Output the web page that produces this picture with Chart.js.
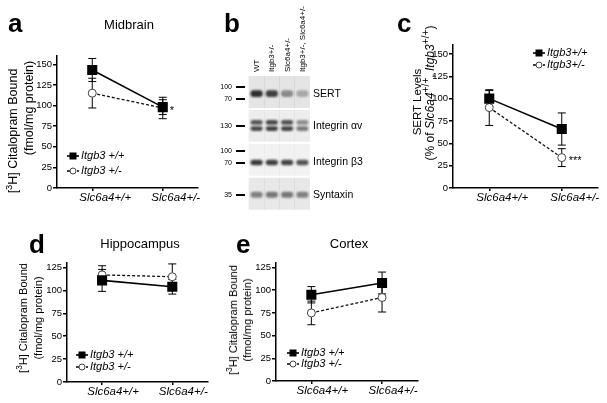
<!DOCTYPE html>
<html>
<head>
<meta charset="utf-8">
<script src="https://cdn.jsdelivr.net/npm/chart.js@4.4.1/dist/chart.umd.min.js"></script>
<style>
  body { margin: 0; background: #fff; }
  #fig { position: relative; width: 607px; height: 403px; overflow: hidden; font-family: "Liberation Sans", Arial, sans-serif; color: #000; }
  #fig canvas { position: absolute; }
  .letter { position: absolute; font-weight: bold; font-size: 26px; line-height: 26px; }
  .title { position: absolute; font-size: 13px; transform: translate(-50%, -50%); white-space: nowrap; }
  .ytitle { position: absolute; transform: translate(-50%, -50%) rotate(-90deg); text-align: center; white-space: nowrap; }
  .ytitle sup { font-size: 0.75em; line-height: 0; }
</style>
</head>
<body>
<div id="fig">
  <canvas id="chartA" width="210" height="210" style="left:0;top:0"></canvas>
  <canvas id="chartB" width="175" height="220" style="left:200px;top:0"></canvas>
  <canvas id="chartC" width="207" height="210" style="left:400px;top:0"></canvas>
  <canvas id="chartD" width="175" height="147" style="left:40px;top:255px"></canvas>
  <canvas id="chartE" width="175" height="146" style="left:250px;top:255px"></canvas>

  <div class="letter" style="left:8px;top:10px">a</div>
  <div class="letter" style="left:224px;top:10px">b</div>
  <div class="letter" style="left:397px;top:10px">c</div>
  <div class="letter" style="left:29px;top:231px">d</div>
  <div class="letter" style="left:236px;top:231px">e</div>

  <div class="title" style="left:129px;top:24px">Midbrain</div>
  <div class="title" style="left:140px;top:243px">Hippocampus</div>
  <div class="title" style="left:349px;top:243px">Cortex</div>

  <div class="ytitle" style="left:13px;top:131px;font-size:12.5px">[<sup>3</sup>H] Citalopram Bound</div>
  <div class="ytitle" style="left:29px;top:108px;font-size:12.5px">(fmol/mg protein)</div>
  <div class="ytitle" style="left:417px;top:102px;font-size:11.5px">SERT Levels</div>
  <div class="ytitle" style="left:430px;top:93px;font-size:12px">(% of <i>Slc6a4</i><sup style="font-size:0.85em">+/+</sup>, <i>Itgb3</i><sup style="font-size:0.85em">+/+</sup>)</div>
  <div class="ytitle" style="left:31px;top:318px;font-size:11px;line-height:15px">[<sup>3</sup>H] Citalopram Bound<br>(fmol/mg protein)</div>
  <div class="ytitle" style="left:240px;top:320px;font-size:11px;line-height:14px">[<sup>3</sup>H] Citalopram Bound<br>(fmol/mg protein)</div>
</div>
<script>
Chart.defaults.font.family = '"Liberation Sans", Arial, sans-serif';
Chart.defaults.color = "#000";

const genotypes = ["Slc6a4+/+", "Slc6a4+/-"];
const seriesNames = ["Itgb3 +/+", "Itgb3 +/-"];
const seriesNamesC = ["Itgb3+/+", "Itgb3+/-"];

// a - midbrain binding
const midbrainWt = [143, 98];
const midbrainWtErr = [14, 9];
const midbrainHet = [115, 97];
const midbrainHetErr = [18, 13];
const midbrainStars = [null, "*"];

// c - SERT protein levels
const sertWt = [100, 66];
const sertWtErr = [9, 18];
const sertHet = [90, 34];
const sertHetErr = [20, 10];
const sertStars = [null, "***"];

// d - hippocampus binding
const hippoWt = [111, 104];
const hippoWtErr = [12, 8];
const hippoHet = [117, 115];
const hippoHetErr = [10, 14];

// e - cortex binding
const cortexWt = [95, 108];
const cortexWtErr = [9, 12];
const cortexHet = [75, 92];
const cortexHetErr = [13, 16];

// b - western blot
const lanes = ["WT", "Itgb3+/-", "Slc6a4+/-", "Itgb3+/-, Slc6a4+/-"];
const proteins = ["SERT", "Integrin \u03b1v", "Integrin \u03b23", "Syntaxin"];
const proteinRows = [0.05, 1.0, 2.08, 3.03];
const markerLabels = ["100", "70", "130", "100", "70", "35"];
const markerRows = [-0.15, 0.2, 1.0, 1.75, 2.1, 3.05];
const sertBand = [0.9, 0.82, 0.45, 0.3];
const avUpperBand = [0.72, 0.78, 0.74, 0.45];
const avLowerBand = [0.78, 0.82, 0.8, 0.55];
const b3Band = [0.85, 0.82, 0.8, 0.72];
const syntaxinBand = [0.5, 0.55, 0.55, 0.5];
const bandRows = [0.05, 0.9, 1.08, 2.08, 3.03];
const bandLevels = [sertBand, avUpperBand, avLowerBand, b3Band, syntaxinBand];
const stripShade = [0.1, 0.07, 0.05, 0.09];

const errorBars = {
  id: "errorBars",
  beforeDatasetsDraw(chart) {
    const { ctx } = chart;
    ctx.save();
    ctx.strokeStyle = "#000";
    ctx.lineWidth = 1;
    chart.data.datasets.forEach((ds, di) => {
      if (!ds.errors) return;
      const meta = chart.getDatasetMeta(di);
      const yScale = chart.scales[meta.yAxisID];
      meta.data.forEach((pt, i) => {
        const top = yScale.getPixelForValue(ds.data[i] + ds.errors[i]);
        const bottom = yScale.getPixelForValue(ds.data[i] - ds.errors[i]);
        ctx.beginPath();
        ctx.moveTo(pt.x, top);
        ctx.lineTo(pt.x, bottom);
        ctx.moveTo(pt.x - 4, top);
        ctx.lineTo(pt.x + 4, top);
        ctx.moveTo(pt.x - 4, bottom);
        ctx.lineTo(pt.x + 4, bottom);
        ctx.stroke();
      });
    });
    ctx.restore();
  },
};

const starMarks = {
  id: "starMarks",
  afterDatasetsDraw(chart) {
    const { ctx } = chart;
    ctx.save();
    ctx.fillStyle = "#000";
    ctx.font = '11px "Liberation Sans", Arial, sans-serif';
    ctx.textAlign = "left";
    ctx.textBaseline = "middle";
    chart.data.datasets.forEach((ds, di) => {
      (ds.stars || []).forEach((s, i) => {
        if (!s) return;
        const pt = chart.getDatasetMeta(di).data[i];
        ctx.fillText(s, pt.x + 7, pt.y + 3);
      });
    });
    ctx.restore();
  },
};

const inlineLegend = {
  id: "inlineLegend",
  afterDatasetsDraw(chart, args, opts) {
    const { ctx, chartArea } = chart;
    const x0 = chartArea.left + opts.dx;
    const yBase = opts.fromTop ? chartArea.top : chartArea.bottom;
    ctx.save();
    chart.data.datasets.forEach((ds, i) => {
      const y = yBase + opts.dy + i * opts.gap;
      ctx.strokeStyle = "#000";
      ctx.lineWidth = ds.borderWidth;
      ctx.setLineDash(ds.borderDash || []);
      ctx.beginPath();
      ctx.moveTo(x0, y);
      ctx.lineTo(x0 + 12, y);
      ctx.stroke();
      ctx.setLineDash([]);
      const cx = x0 + 6;
      if (ds.pointStyle === "rect") {
        ctx.fillStyle = "#000";
        ctx.fillRect(cx - 3.5, y - 3.5, 7, 7);
      } else {
        ctx.beginPath();
        ctx.arc(cx, y, 3, 0, Math.PI * 2);
        ctx.fillStyle = "#fff";
        ctx.fill();
        ctx.lineWidth = 1;
        ctx.strokeStyle = "#444";
        ctx.stroke();
      }
      ctx.fillStyle = "#000";
      ctx.font = 'italic 11px "Liberation Sans", Arial, sans-serif';
      ctx.textAlign = "left";
      ctx.textBaseline = "middle";
      ctx.fillText(ds.label, x0 + 14, y);
    });
    ctx.restore();
  },
};

const makeLineChart = (id, cfg) => new Chart(document.getElementById(id), {
  type: "line",
  data: {
    labels: genotypes,
    datasets: [
      {
        label: cfg.names[0],
        data: cfg.wt,
        errors: cfg.wtErr,
        stars: cfg.wtStars || [],
        borderColor: "#000",
        borderWidth: 1.6,
        pointStyle: "rect",
        pointRadius: 6,
        pointBackgroundColor: "#000",
        pointBorderColor: "#000",
      },
      {
        label: cfg.names[1],
        data: cfg.het,
        errors: cfg.hetErr,
        stars: cfg.hetStars || [],
        borderColor: "#111",
        borderWidth: 1.3,
        borderDash: [3, 2],
        pointStyle: "circle",
        pointRadius: 4,
        pointBackgroundColor: "#fff",
        pointBorderColor: "#444",
        pointBorderWidth: 1,
      },
    ],
  },
  options: {
    responsive: false,
    animation: false,
    devicePixelRatio: 1,
    events: [],
    layout: { padding: cfg.padding },
    plugins: {
      legend: { display: false },
      tooltip: { enabled: false },
      inlineLegend: cfg.legend,
    },
    scales: {
      x: {
        offset: true,
        grid: { offset: false, drawOnChartArea: false, tickLength: 3, color: "#000", lineWidth: 1.5 },
        border: { color: "#000", width: 1.5 },
        ticks: { font: { size: 11.5, style: "italic" }, padding: 0, labelOffset: cfg.labelShift, maxRotation: 0 },
        afterFit: (s) => { s.height = cfg.xHeight; },
      },
      y: {
        min: 0,
        max: cfg.max,
        grid: { drawOnChartArea: false, tickLength: 4, color: "#000", lineWidth: 1.5 },
        border: { color: "#000", width: 1.5 },
        ticks: { stepSize: 25, includeBounds: false, font: { size: 9.5 }, padding: 1 },
        afterFit: (s) => { s.width = 22; },
      },
    },
  },
  plugins: [errorBars, starMarks, inlineLegend],
});

makeLineChart("chartA", {
  names: seriesNames,
  wt: midbrainWt, wtErr: midbrainWtErr,
  het: midbrainHet, hetErr: midbrainHetErr, hetStars: midbrainStars,
  max: 160, xHeight: 22, labelShift: 13,
  padding: { left: 35, right: 12, top: 56, bottom: 0 },
  legend: { dx: 10, dy: -32, gap: 15, fromTop: false },
});

makeLineChart("chartC", {
  names: seriesNamesC,
  wt: sertWt, wtErr: sertWtErr,
  het: sertHet, hetErr: sertHetErr, hetStars: sertStars,
  max: 160, xHeight: 22, labelShift: 13,
  padding: { left: 31, right: 9, top: 45, bottom: 0 },
  legend: { dx: 80, dy: 8, gap: 12, fromTop: true },
});

makeLineChart("chartD", {
  names: seriesNames,
  wt: hippoWt, wtErr: hippoWtErr,
  het: hippoHet, hetErr: hippoHetErr,
  max: 130, xHeight: 20, labelShift: 11,
  padding: { left: 5, right: 6, top: 8, bottom: 0 },
  legend: { dx: 9, dy: -27, gap: 12, fromTop: false },
});

makeLineChart("chartE", {
  names: seriesNames,
  wt: cortexWt, wtErr: cortexWtErr,
  het: cortexHet, hetErr: cortexHetErr,
  max: 130, xHeight: 20, labelShift: 11,
  padding: { left: 4, right: 7, top: 8, bottom: 0 },
  legend: { dx: 11, dy: -28, gap: 11, fromTop: false },
});

// blot panel: strips and bands as floating bars
const softBands = {
  id: "softBands",
  beforeDatasetDraw(chart, args) {
    const ds = chart.data.datasets[args.index];
    chart.ctx.save();
    if (ds.blur) chart.ctx.filter = `blur(${ds.blur}px)`;
  },
  afterDatasetDraw(chart) {
    chart.ctx.restore();
  },
};

const bandHalf = [0.1, 0.07, 0.07, 0.08, 0.09];
const bandSets = bandRows.map((row, k) => ({
  data: lanes.map((_, i) => ({ x: i + 1, y: [row - bandHalf[k], row + bandHalf[k]] })),
  backgroundColor: bandLevels[k].map((v) => `rgba(25,25,25,${v})`),
  barPercentage: 0.8,
  categoryPercentage: 1,
  borderRadius: 3,
  borderSkipped: false,
  grouped: false,
  order: 0,
  blur: 0.9,
}));
const stripSets = proteins.map((p, r) => ({
  data: lanes.map((_, i) => ({ x: i + 1, y: [r - 0.46, r + 0.46] })),
  backgroundColor: `rgba(0,0,0,${stripShade[r]})`,
  barPercentage: 1,
  categoryPercentage: 1,
  borderWidth: 0,
  grouped: false,
  order: 1,
}));

new Chart(document.getElementById("chartB"), {
  type: "bar",
  data: { datasets: [...bandSets, ...stripSets] },
  options: {
    responsive: false,
    animation: false,
    devicePixelRatio: 1,
    events: [],
    layout: { padding: { left: 0, right: 0, top: 0, bottom: 8 } },
    plugins: { legend: { display: false }, tooltip: { enabled: false } },
    scales: {
      x: {
        type: "linear",
        position: "top",
        offset: false,
        min: 0.24,
        max: 4.5,
        grid: { display: false, drawTicks: false },
        border: { display: false },
        afterBuildTicks: (s) => { s.ticks = lanes.map((_, i) => ({ value: i + 1 })); },
        ticks: { callback: (v, i) => lanes[i], minRotation: 90, maxRotation: 90, autoSkip: false, font: { size: 8 }, padding: 3, labelOffset: 10 },
        afterFit: (s) => { s.height = 75; },
      },
      y: {
        type: "linear",
        position: "left",
        reverse: true,
        min: -0.5,
        max: 3.5,
        afterBuildTicks: (s) => { s.ticks = markerRows.map((v) => ({ value: v })); },
        ticks: { callback: (v, i) => markerLabels[i], font: { size: 7 }, padding: 4, autoSkip: false },
        grid: { drawOnChartArea: false, tickLength: 9, lineWidth: 2, color: "#000" },
        border: { display: false },
        afterFit: (s) => { s.width = 45; },
      },
      y2: {
        type: "linear",
        position: "right",
        reverse: true,
        min: -0.5,
        max: 3.5,
        afterBuildTicks: (s) => { s.ticks = proteinRows.map((v) => ({ value: v })); },
        ticks: { callback: (v, i) => proteins[i], font: { size: 10.5 }, padding: 3, autoSkip: false },
        grid: { display: false, drawTicks: false },
        border: { display: false },
        afterFit: (s) => { s.width = 65; },
      },
    },
  },
  plugins: [softBands],
});
</script>
</body>
</html>
